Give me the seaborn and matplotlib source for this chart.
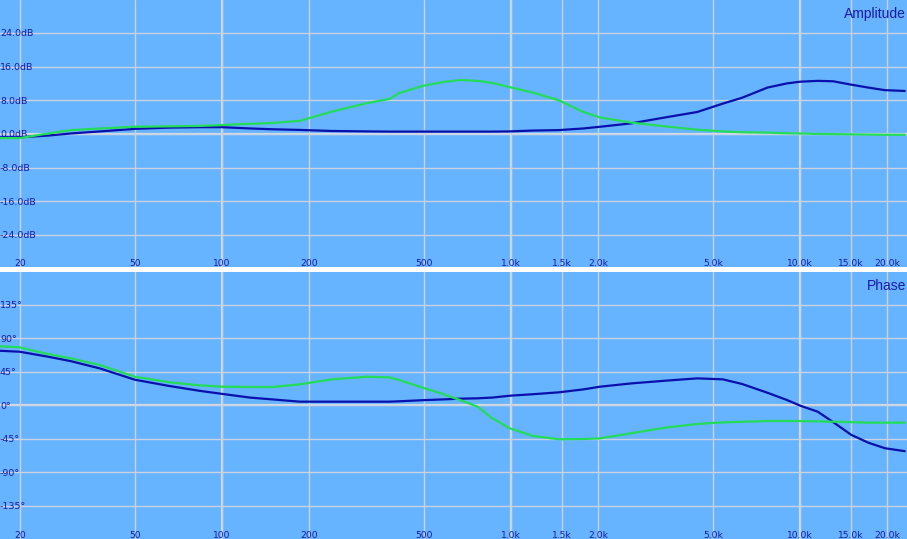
import numpy as np
import pandas as pd
import seaborn as sns
import matplotlib.pyplot as plt
import matplotlib.ticker as mticker

# Estilo global
sns.set_theme(style="whitegrid", rc={
    "axes.facecolor": "#66B3FF",
    "grid.color": "#C8D2E0",
    "grid.linewidth": 1.0,
})
plt.rcParams["font.family"] = "DejaVu Sans"

COLORS = {
    "blue": "#0A10AC",
    "green": "#22DD55",
    "text": "#1A1AA6",
    "grid_hi": "#D6DCE6",
}

# Datos
freq = [17, 20, 25, 30, 38, 50, 66, 84, 100, 125, 150, 186, 240, 317, 380,
        410, 495, 580, 666, 766, 862, 990, 1190, 1460, 1780, 2030, 2600, 3400,
        4400, 5400, 6300, 7700, 9000, 10000, 11500, 13000, 15000, 17200,
        19600, 23000]

amp_blue = [-0.8, -0.8, -0.4, 0.1, 0.6, 1.2, 1.5, 1.6, 1.6, 1.3, 1.1, 0.95,
            0.7, 0.6, 0.55, 0.55, 0.55, 0.55, 0.55, 0.55, 0.55, 0.6, 0.8,
            0.9, 1.3, 1.7, 2.5, 3.9, 5.2, 7.2, 8.6, 11.0, 12.0, 12.4, 12.6,
            12.5, 11.7, 11.0, 10.4, 10.2]

amp_green = [-1.0, -1.0, 0.1, 0.9, 1.3, 1.7, 1.8, 1.9, 2.1, 2.4, 2.6, 3.1,
             5.3, 7.3, 8.3, 9.7, 11.4, 12.3, 12.8, 12.6, 12.1, 11.1, 9.8,
             8.0, 5.2, 3.9, 2.7, 1.8, 1.0, 0.6, 0.4, 0.3, 0.15, 0.1, 0.0,
             -0.05, -0.1, -0.15, -0.2, -0.2]

phase_blue = [72.9, 71.6, 65, 59, 49, 34, 25.5, 19, 15, 10, 7.5, 4.5, 4.5,
              4.5, 4.5, 5, 6.5, 7.5, 8.5, 9, 10, 12.5, 14.5, 17, 21, 24.6, 29,
              32.6, 35.8, 34.5, 28.2, 16.5, 6.7, -0.9, -9, -23, -40, -50.6,
              -58, -62]

phase_green = [79, 77.4, 68.5, 62.7, 53.5, 38, 30.5, 26.4, 24.6, 24.2, 24.2,
               27.8, 34.5, 38, 37.2, 33.6, 23.3, 14.8, 6.7, -2.2, -17.9, -31.3,
               -41.6, -46, -45.7, -44.8, -38, -30.5, -25.5, -23.3, -22.5,
               -21.5, -21.5, -21.5, -22, -22.4, -23, -23.7, -23.7, -23.7]

x_ticks = [20, 50, 100, 200, 500, 1000, 1500, 2000, 5000, 10000, 15000, 20000]
x_labels = ["20", "50", "100", "200", "500", "1.0k", "1.5k", "2.0k", "5.0k",
            "10.0k", "15.0k", "20.0k"]
amp_ticks = [-24, -16, -8, 0, 8, 16, 24]
amp_labels = ["-24.0dB", "-16.0dB", "-8.0dB", "0.0dB", "8.0dB", "16.0dB", "24.0dB"]
phase_ticks = [-135, -90, -45, 0, 45, 90, 135]
phase_labels = ["-135°", "-90°", "-45°", "0°", "45°", "90°", "135°"]

n = len(freq)
df = pd.DataFrame({
    "freq": freq * 2,
    "amp": amp_blue + amp_green,
    "phase": phase_blue + phase_green,
    "curve": ["blue"] * n + ["green"] * n,
})

W, H = 907, 539
fig = plt.figure(figsize=(W / 100, H / 100), dpi=100, facecolor="white")
ax_amp = fig.add_axes([0, 272 / H, 1, 267 / H])
ax_ph = fig.add_axes([0, 0, 1, 267 / H])

palette = {"blue": COLORS["blue"], "green": COLORS["green"]}


def style_axis(ax, yticks, ylabels, ylim, title):
    ax.set_xscale("log")
    ax.set_xlim(17.1, 23400)
    ax.set_ylim(*ylim)
    ax.set_xticks(x_ticks)
    ax.set_xticklabels(x_labels)
    ax.xaxis.set_minor_locator(mticker.NullLocator())
    ax.set_yticks(yticks)
    ax.set_yticklabels(ylabels)
    ax.set(xlabel="", ylabel="")
    ax.tick_params(axis="x", length=0, pad=-1, labelsize=6.6,
                   labelcolor=COLORS["text"])
    ax.tick_params(axis="y", length=0, pad=0, labelsize=6.8,
                   labelcolor=COLORS["text"])
    for t in ax.get_xticklabels():
        t.set_verticalalignment("baseline")
    for t in ax.get_yticklabels():
        t.set_horizontalalignment("left")
    for s in ax.spines.values():
        s.set_visible(False)
    # lineas de referencia resaltadas (debajo de las etiquetas)
    for f in (100, 1000, 10000):
        ax.axvline(f, color=COLORS["grid_hi"], lw=1.6, zorder=0.4)
    ax.axhline(0, color=COLORS["grid_hi"], lw=1.6, zorder=0.4)
    ax.text(0.999, 0.975, title, transform=ax.transAxes, ha="right", va="top",
            fontsize=10, color=COLORS["text"], family="Liberation Sans")


sns.lineplot(data=df, x="freq", y="amp", hue="curve", hue_order=["blue", "green"],
             palette=palette, linewidth=1.6, legend=False, estimator=None,
             ax=ax_amp, zorder=3)
style_axis(ax_amp, amp_ticks, amp_labels, (-31.6, 31.8), "Amplitude")

sns.lineplot(data=df, x="freq", y="phase", hue="curve", hue_order=["blue", "green"],
             palette=palette, linewidth=1.6, legend=False, estimator=None,
             ax=ax_ph, zorder=3)
style_axis(ax_ph, phase_ticks, phase_labels, (-180, 178.7), "Phase")

fig.savefig("out.png", dpi=100, facecolor="white")
